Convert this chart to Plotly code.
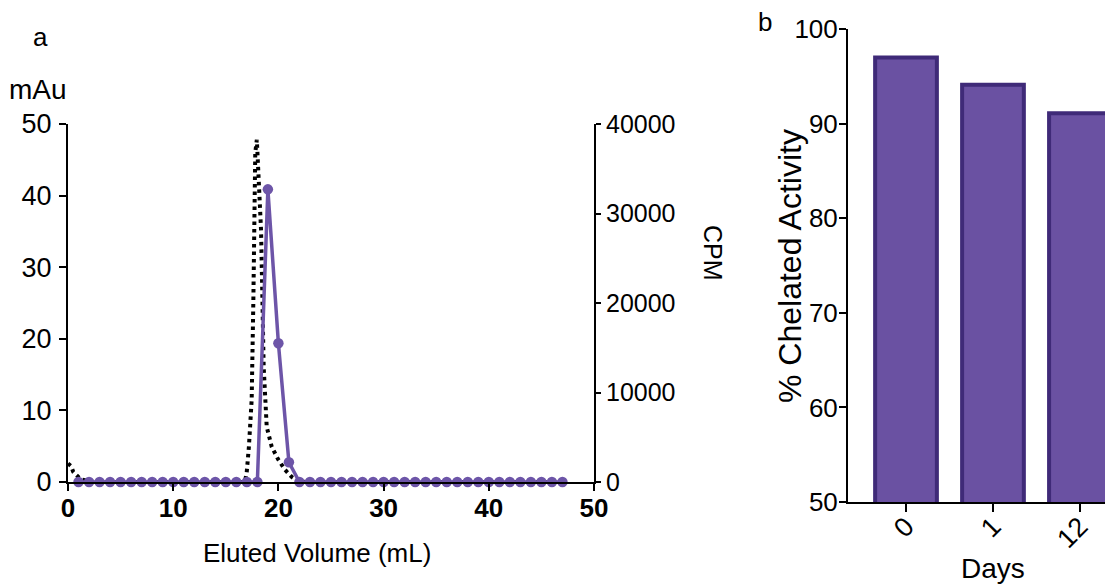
import plotly.graph_objects as go

# ---------------- Data ----------------
# panel a: UV trace (mAu, dotted) and radioactivity fractions (CPM, purple)
uv_volume = [0, 0.3, 0.5, 0.8, 1.2, 2.0, 3.0, 16.8, 16.98, 17.2, 17.46, 17.62, 17.7, 17.8,
             17.95, 18.16, 18.35, 18.48, 18.6, 18.89, 19.37, 20.0, 20.63, 21.27, 21.9, 22.6, 47]
uv_mau = [2.6, 2.2, 1.4, 0.9, 0.4, 0.1, 0, 0, 1.2, 5.0, 11.5, 25.4, 38, 46,
          47.8, 42.2, 35.2, 25.4, 16.1, 7.7, 4.9, 3.1, 1.7, 0.7, 0.1, 0, 0]

fraction_volume = list(range(1, 48))
fraction_cpm = [0] * 18 + [32700, 15500, 2200] + [0] * 26

# panel b: chelated activity over time
days = ["0", "1", "12"]
chelated_pct = [97.0, 94.1, 91.1]

# the page body has an 8px margin, so the figure is drawn 8px in from the corner
PAD = 8
W, H = 1113 - PAD, 586 - PAD
FONT = "Liberation Sans, Arial, sans-serif"
PURPLE = "#6d55a8"
BAR_FILL = "#6a51a2"
BAR_EDGE = "#3f2a78"


def px_x(x):
    # screen pixel -> paper fraction
    return (x - PAD) / W


def px_y(y):
    return 1 - (y - PAD) / H


fig = go.Figure()

# ---------------- Panel a ----------------
fig.add_trace(go.Scatter(
    x=fraction_volume, y=fraction_cpm, xaxis="x", yaxis="y2",
    mode="lines+markers", line=dict(color=PURPLE, width=3.5),
    marker=dict(color=PURPLE, size=10.5), cliponaxis=False, showlegend=False,
))
fig.add_trace(go.Scatter(
    x=uv_volume, y=uv_mau, xaxis="x", yaxis="y",
    mode="lines", line=dict(color="black", width=4, dash="3.5px,4px"),
    showlegend=False,
))

# ---------------- Panel b ----------------
fig.add_trace(go.Bar(
    x=days, y=chelated_pct, xaxis="x3", yaxis="y3", width=0.71,
    marker=dict(color=BAR_FILL, line=dict(color=BAR_EDGE, width=4)),
    showlegend=False,
))

axis_common = dict(showgrid=False, zeroline=False, showline=True, linecolor="black",
                   linewidth=2, ticks="outside", tickcolor="black", tickwidth=2,
                   automargin=False)

fig.update_layout(
    width=W, height=H, margin=dict(l=0, r=0, t=0, b=0, autoexpand=False),
    paper_bgcolor="white", plot_bgcolor="white",
    font=dict(family=FONT, color="black"),
    xaxis=dict(domain=[px_x(68), px_x(594)], range=[0, 50], tickvals=[0, 10, 20, 30, 40, 50],
               ticklen=7, ticklabelstandoff=-5, tickfont=dict(size=26, weight="bold"),
               anchor="y", **axis_common),
    yaxis=dict(domain=[px_y(482), px_y(124)], range=[0, 50], tickvals=[0, 10, 20, 30, 40, 50],
               ticklen=7, ticklabelstandoff=2, tickfont=dict(size=27), anchor="x", **axis_common),
    yaxis2=dict(range=[0, 40000], tickvals=[0, 10000, 20000, 30000, 40000], tickformat="d",
                overlaying="y", side="right", anchor="x", ticklen=5,
                tickfont=dict(size=25), **axis_common),
    xaxis3=dict(domain=[px_x(848), 1.0], range=[-0.667, 2.38], anchor="y3",
                tickangle=-45, ticklen=8, ticklabelstandoff=-12, tickfont=dict(size=27),
                **axis_common),
    yaxis3=dict(domain=[px_y(502), px_y(29)], range=[50, 100], tickvals=[50, 60, 70, 80, 90, 100],
                anchor="x3", ticklen=7, ticklabelstandoff=-4, tickfont=dict(size=26),
                **axis_common),
)

labels = [
    dict(text="a", x=40, y=37, size=26, angle=0),
    dict(text="mAu", x=38, y=90, size=28, angle=0),
    dict(text="CPM", x=713, y=253, size=25, angle=90),
    dict(text="Eluted Volume (mL)", x=317, y=553, size=26, angle=0),
    dict(text="b", x=765, y=22, size=26, angle=0),
    dict(text="% Chelated Activity", x=790, y=266, size=32, angle=-90),
    dict(text="Days", x=993, y=568, size=28, angle=0),
]
for lab in labels:
    fig.add_annotation(text=lab["text"], x=px_x(lab["x"]), y=px_y(lab["y"]),
                       xref="paper", yref="paper", showarrow=False,
                       textangle=lab["angle"], xanchor="center", yanchor="middle",
                       font=dict(family=FONT, size=lab["size"], color="black"))

fig.write_html("out.html")
